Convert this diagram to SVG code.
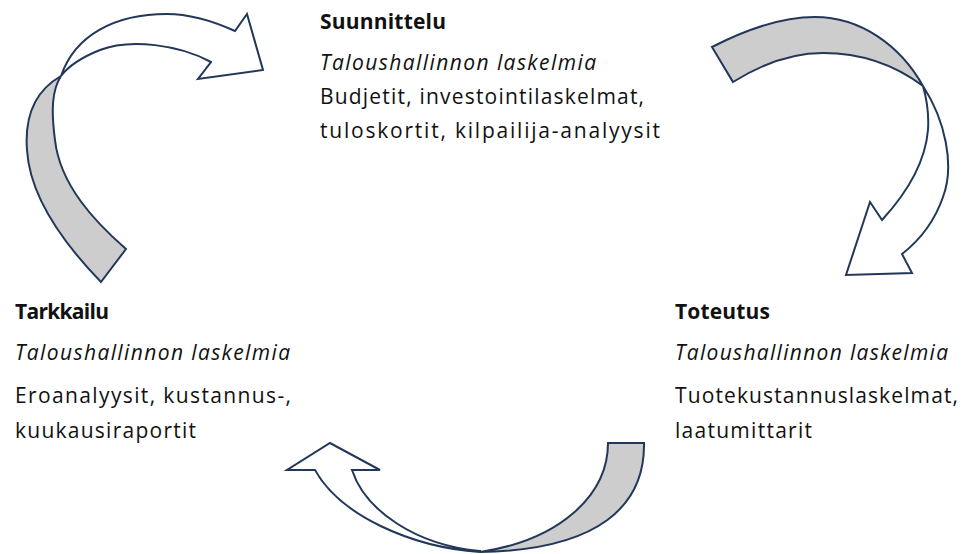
<svg xmlns="http://www.w3.org/2000/svg" width="963" height="554" viewBox="0 0 963 554">
  <style>
    text { font-family: "Open Sans", "Liberation Sans", sans-serif; font-size: 21px; fill: #111; }
    .title { font-weight: bold; }
    .sub { font-style: italic; }
    .band { stroke: #22375a; stroke-width: 2; stroke-linejoin: miter; }
    .back { fill: #cdcdcd; }
    .front { fill: #ffffff; }
  </style>
  <rect width="963" height="554" fill="#ffffff"/>

  <!-- curved cycle arrows: grey back face + white front face with head -->
  <g id="connectors">
    <g id="arrow-tarkkailu-suunnittelu">
      <path class="band back" d="M101,282 L126,249 C95,222 60,185 55,140 C51,110 52,90 61,76 C40,88 24,110 27,150 C30,200 70,250 101,282 Z"/>
      <path class="band front" d="M61,76 C75,35 115,14 167,14 C192,14 215,22 235,31 L247,14 L263,70 L198,79 L211,62 C180,45 130,38 100,50 C85,56 70,64 61,76 Z"/>
    </g>
    <g id="arrow-suunnittelu-toteutus">
      <path class="band back" d="M712,47 L733,82 C765,62 795,53 823,53 C860,53 895,65 923,86 C900,45 860,17 815,17 C780,17 745,30 712,47 Z"/>
      <path class="band front" d="M923,86 C945,120 955,165 943,197 C935,220 920,240 902,254 L912,273 L846,275 L870,202 L882,220 C905,195 925,165 928,130 C929,115 927,100 923,86 Z"/>
    </g>
    <g id="arrow-toteutus-tarkkailu">
      <path class="band back" d="M608,443 L644,443 C645,505 600,550 480,552 C560,540 608,495 608,443 Z"/>
      <path class="band front" d="M480,552 C410,547 340,515 315,470 L287,470 L330,443 L380,470 L352,470 C365,510 415,545 480,551 Z"/>
    </g>
  </g>

  <g id="node-suunnittelu">
    <text class="title" x="320" y="29" textLength="126">Suunnittelu</text>
    <text class="sub" x="320" y="70" textLength="276">Taloushallinnon laskelmia</text>
    <text x="320" y="104" textLength="324">Budjetit, investointilaskelmat,</text>
    <text x="320" y="138" textLength="340">tuloskortit, kilpailija-analyysit</text>
  </g>

  <g id="node-tarkkailu">
    <text class="title" x="15" y="319" textLength="94">Tarkkailu</text>
    <text class="sub" x="15" y="360" textLength="275">Taloushallinnon laskelmia</text>
    <text x="15" y="403" textLength="276">Eroanalyysit, kustannus-,</text>
    <text x="15" y="438" textLength="181">kuukausiraportit</text>
  </g>

  <g id="node-toteutus">
    <text class="title" x="675" y="319" textLength="95">Toteutus</text>
    <text class="sub" x="675" y="360" textLength="273">Taloushallinnon laskelmia</text>
    <text x="675" y="403" textLength="283">Tuotekustannuslaskelmat,</text>
    <text x="675" y="438" textLength="137">laatumittarit</text>
  </g>
</svg>
